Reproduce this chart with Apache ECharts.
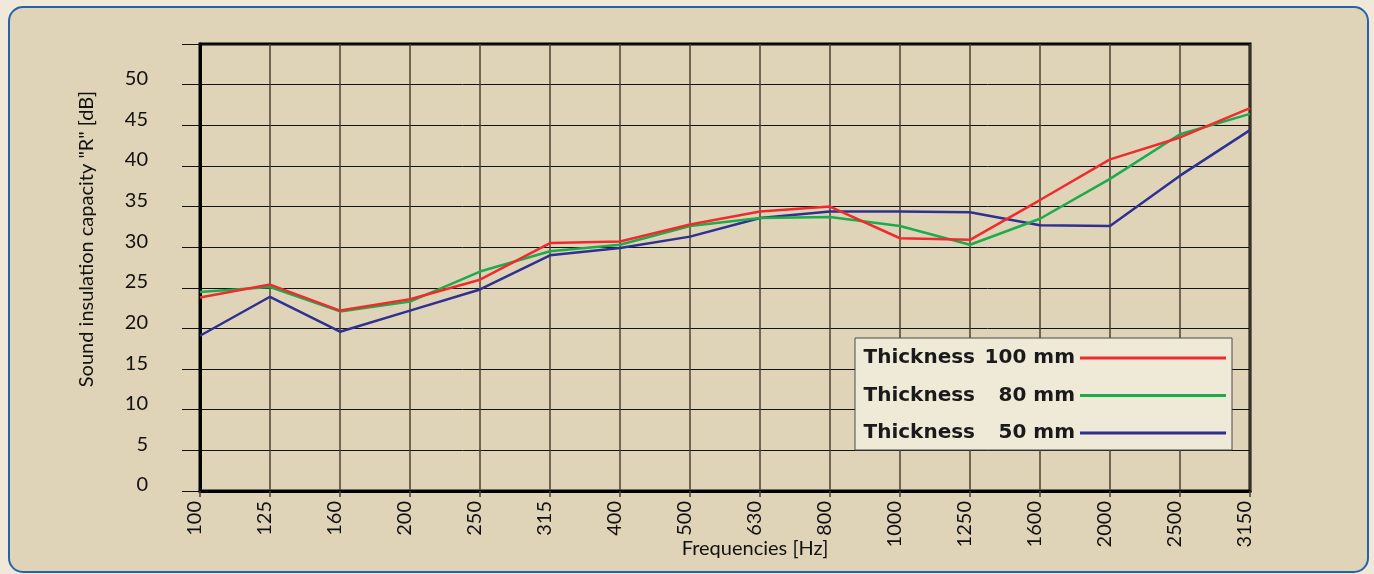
<!DOCTYPE html>
<html>
<head>
<meta charset="utf-8">
<style>
html,body{margin:0;padding:0;background:#f0e9da;}
#c{width:1374px;height:574px;}
</style>
<script src="https://cdn.jsdelivr.net/npm/echarts@6/dist/echarts.min.js"></script>
</head>
<body>
<div id="c"></div>
<script>
const frequencies = ['100','125','160','200','250','315','400','500','630','800','1000','1250','1600','2000','2500','3150'];
const thickness100 = [23.8, 25.4, 22.2, 23.6, 26.0, 30.5, 30.7, 32.8, 34.4, 35.0, 31.1, 30.9, 35.8, 40.8, 43.5, 47.1];
const thickness80  = [24.5, 25.1, 22.1, 23.3, 27.0, 29.5, 30.3, 32.6, 33.6, 33.7, 32.6, 30.3, 33.5, 38.4, 43.9, 46.4];
const thickness50  = [19.1, 23.9, 19.6, 22.2, 24.8, 29.0, 29.9, 31.3, 33.6, 34.4, 34.4, 34.3, 32.7, 32.6, 38.8, 44.4];
const seriesNames = ['Thickness 100 mm', 'Thickness 80 mm', 'Thickness 50 mm'];
const legendNumbers = {'Thickness 100 mm': '100 mm', 'Thickness 80 mm': '80 mm', 'Thickness 50 mm': '50 mm'};
const yMin = 0, yMax = 55, yStep = 5;
const xTitle = 'Frequencies [Hz]';
const yTitle = 'Sound insulation capacity "R" [dB]';

const chart = echarts.init(document.getElementById('c'), null, {renderer: 'canvas'});
const colors = ['#ee2b2f', '#1eab4c', '#2e3192'];

chart.setOption({
  animation: false,
  backgroundColor: 'transparent',
  color: colors,
  graphic: [
    {type: 'rect', z: -100, silent: true,
     shape: {x: 9, y: 7, width: 1359, height: 565, r: 14},
     style: {fill: '#e0d4b8', stroke: '#2463aa', lineWidth: 2}},
    {type: 'text', z: 10, silent: true,
     style: {text: yTitle, font: '20px Lato', fill: '#111', textAlign: 'center', textVerticalAlign: 'middle'},
     rotation: Math.PI / 2, x: 87, y: 239},
    {type: 'text', z: 10, silent: true,
     style: {text: xTitle, font: '20px Lato', fill: '#111', textAlign: 'center', textVerticalAlign: 'middle'},
     x: 755, y: 549}
  ],
  grid: {left: 200, top: 44, right: 124, bottom: 83, show: true, borderColor: '#000', borderWidth: 3, backgroundColor: 'transparent'},
  legend: {
    orient: 'vertical', left: 855, top: 338, align: 'right',
    data: seriesNames,
    backgroundColor: '#efe9d8', borderColor: '#4a4a4a', borderWidth: 1,
    padding: [10, 6, 7, 6], itemGap: 17.5, itemWidth: 146, itemHeight: 3, icon: 'rect',
    formatter: function (n) { return '{a|Thickness}{b|' + legendNumbers[n] + '}'; },
    textStyle: {
      rich: {
        a: {fontFamily: 'DejaVu Sans', fontWeight: 'bold', fontSize: 20, color: '#1a1a1a', width: 114, lineHeight: 24},
        b: {fontFamily: 'DejaVu Sans', fontWeight: 'bold', fontSize: 20, color: '#1a1a1a', width: 100, align: 'right', lineHeight: 24}
      }
    }
  },
  xAxis: {
    type: 'category', data: frequencies, boundaryGap: false,
    axisLine: {lineStyle: {color: '#000', width: 3}},
    axisTick: {show: true, length: 6, alignWithLabel: true, lineStyle: {color: '#4a4030', width: 1.5}},
    axisLabel: {rotate: 90, margin: 10, fontFamily: 'Lato', fontSize: 20, color: '#111', interval: 0,
      verticalAlign: 'bottom', lineHeight: 10},
    splitLine: {show: true, lineStyle: {color: '#4a4030', width: 1.5}}
  },
  yAxis: {
    type: 'value', min: yMin, max: yMax, interval: yStep,
    axisLine: {show: true, lineStyle: {color: '#000', width: 3}},
    axisTick: {show: true, length: 18, lineStyle: {color: '#111', width: 1}},
    axisLabel: {margin: 52, fontFamily: 'Lato', fontSize: 20, color: '#111', verticalAlign: 'bottom', lineHeight: 12,
      formatter: function (v) { return v >= yMax ? '' : String(v); }},
    splitLine: {show: true, lineStyle: {color: '#111', width: 1}}
  },
  series: [
    {name: seriesNames[0], type: 'line', data: thickness100, symbol: 'none', color: colors[0], lineStyle: {width: 2.5, color: colors[0]}, z: 5},
    {name: seriesNames[1], type: 'line', data: thickness80, symbol: 'none', color: colors[1], lineStyle: {width: 2.5, color: colors[1]}, z: 4},
    {name: seriesNames[2], type: 'line', data: thickness50, symbol: 'none', color: colors[2], lineStyle: {width: 2.5, color: colors[2]}, z: 3}
  ]
});
</script>
</body>
</html>
